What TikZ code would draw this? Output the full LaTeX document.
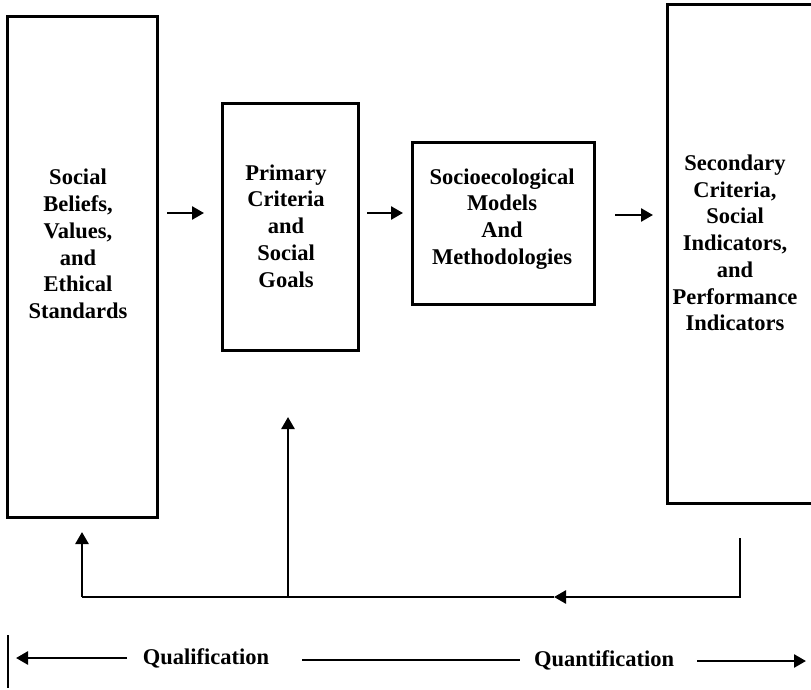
\documentclass[tikz,border=0pt]{standalone}
\usepackage{fontspec}
\setmainfont{Liberation Serif}
\usetikzlibrary{arrows.meta}
\tikzset{
  boxst/.style={draw=black, line width=3pt, rectangle, inner sep=0pt},
  lbl/.style={align=center, font=\fontsize{22.5}{26.7}\selectfont\bfseries, inner sep=0pt},
  arr/.style={line width=2.6pt, -{Triangle[length=12pt,width=13pt]}},
  ln/.style={line width=2.6pt},
}
\begin{document}
\begin{tikzpicture}[x=1pt,y=-1pt]
\useasboundingbox (0,0) rectangle (811,690);
\clip (0,0) rectangle (811,690);
% boxes
\node[boxst, minimum width=150pt, minimum height=500pt] (b1) at (82,267) {};
\node[boxst, minimum width=136pt, minimum height=246pt] (b2) at (290,227) {};
\node[boxst, minimum width=182pt, minimum height=161pt] (b3) at (503,223.5) {};
\node[boxst, minimum width=148pt, minimum height=498pt] (b4) at (741,254) {};
% texts
\node[lbl] (t1) at (78,244) {Social\\Beliefs,\\Values,\\and\\Ethical\\Standards};
\node[lbl] (t2) at (286,226) {Primary\\Criteria\\and\\Social\\Goals};
\node[lbl] (t3) at (502,219) {Socioecological\\Models\\And\\Methodologies};
\node[lbl] (t4) at (735,243) {Secondary\\Criteria,\\Social\\Indicators,\\and\\Performance\\Indicators};
% forward arrows
\coordinate (a1s) at (167,213); \coordinate (a1e) at (204,213);
\coordinate (a2s) at (367,213); \coordinate (a2e) at (403,213);
\coordinate (a3s) at (615,215); \coordinate (a3e) at (653,215);
\draw[arr] (a1s) -- (a1e);
\draw[arr] (a2s) -- (a2e);
\draw[arr] (a3s) -- (a3e);
% feedback loop
\coordinate (f0) at (740,538);
\coordinate (f1) at (740,597);
\coordinate (fm) at (554,597);
\coordinate (fj) at (288,597);
\coordinate (fl) at (82,597);
\coordinate (fu1) at (82,532);
\coordinate (fu2) at (288,417);
\draw[arr] (f0) -- (f1) -- (fm);
\draw[ln, line join=miter] (fm) -- (fl);
\draw[arr] (fl) -- (fu1);
\draw[arr] (fj) -- (fu2);
% bottom scale
\coordinate (v1) at (8,635); \coordinate (v2) at (8,688);
\draw[ln] (v1) -- (v2);
\node[lbl] (q1) at (206,658) {Qualification};
\node[lbl] (q2) at (604,660) {Quantification};
\coordinate (l1s) at (127,658); \coordinate (l1e) at (16,658);
\coordinate (l2s) at (302,660); \coordinate (l2e) at (520,660);
\coordinate (l3s) at (697,661); \coordinate (l3e) at (806,661);
\draw[arr] (l1s) -- (l1e);
\draw[ln] (l2s) -- (l2e);
\draw[arr] (l3s) -- (l3e);
\end{tikzpicture}
\end{document}
